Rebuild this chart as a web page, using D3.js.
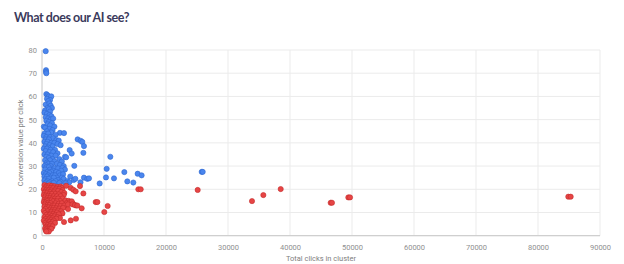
<!DOCTYPE html>
<html>
<head>
<meta charset="utf-8">
<script src="https://cdn.jsdelivr.net/npm/d3@7"></script>
<style>
  body { margin: 0; background: #fff; }
  svg { display: block; }
</style>
</head>
<body>
<div id="chart"></div>
<script>
// clicks vs conversion value
var bluePoints = [
  [600,79.5],[650,71.3],[650,70.6],[700,70],
  [700,61],[900,60.5],[1100,60],[1500,60],[800,59],[1300,58.5],[1000,58],[600,56.5],[1200,57],[1400,56],[900,55],[1600,55],[500,54],[1100,54.5],[1300,53.5],
  [400,53],[800,52.5],[1200,52],[1500,51.5],[600,51],[1000,50.5],[1400,50],[1800,50.5],[700,49.5],[1100,49],[1600,48.5],[300,47],[900,48],[1300,47.5],[2000,47],[500,46.5],[1200,46],[1700,45.5],[800,45],[1500,44.5],[2900,44.3],[3550,44.2],[400,44],[1000,44],[2200,43.5],
  [300,43],[700,42.5],[1300,42.5],[1800,42],[600,41.5],[1100,41.5],[2300,41.2],[2700,41],[400,40.5],[900,40.5],[1500,40],[2000,40],[2500,39.5],[700,39.5],[1200,39],[3000,39],[1700,38.5],[500,38.5],[1000,38],
  [5750,41.5],[6240,40.9],[6500,40.4],[6770,38.6],[4460,36.9],[4790,35.4],[6670,35.7],[11020,34],
  [300,37.5],[800,37.5],[1400,37],[2100,37],[600,36.5],[1200,36],[1800,36],[2500,35.5],[400,35],[900,35],[1500,34.5],[2200,34.5],[3700,34],[3900,33.8],[700,34],[1100,33.5],[1700,33],[2800,33],[500,32.5],[1300,32.5],[2000,32],[3200,32],[800,31.5],[1000,31],[1600,31],[2400,31],[600,30.5],[1400,30],[2900,30.5],[3500,30],[400,30],
  [5210,30.1],[10430,28.8],[13280,27.4],[15430,26.7],[16070,26],[25760,27.5],[25920,27.5],[10320,25.1],[11610,24.7],[13760,23.4],[14730,22.9],[9300,22.5],
  [6770,25],[7310,24.5],[7580,24.7],[4550,25.5],[5100,24],[5380,24.5],[6210,23],
  [700,29.5],[1100,29.5],[2000,29],[2600,29],[3300,29.2],[3700,28.5],[500,28.5],[1300,28.5],[1800,28],[3100,28],[900,27.5],[1500,27.5],[2300,27.5],[300,27],[1200,27],[2700,27],[600,26.5],[1000,26],[1700,26],[2100,26],[2900,26],[3400,26.5],[400,25.5],[800,25.5],[1400,25],[2400,25],[1900,25],[3200,25],[600,24.5],[1100,24.5],[2600,24],[3500,24.5],[400,23.8],[900,23.5],[1600,23.5],[2200,23.5],[3000,23.2],[4100,23.5],[700,23],[1300,23],[1900,22.8],[2800,22.7],[500,22.5],[1100,22.5],[4400,23],[3800,22.6]
];

var redPoints = [
  [25110,19.7],[15540,20],[15920,20],[10590,12.8],[10050,10.2],[8660,14.5],[8930,14.5],[6670,18.2],[6400,11.8],[5480,7.3],[4630,6.6],[3550,5.9],
  [6130,21.4],[4630,20.6],[5050,19.8],[5430,19.1],[4500,14],[5000,13.8],[5500,13],[3800,12.5],[4200,11.5],
  [33870,14.9],[35700,17.5],[38500,20.1],[46560,14.2],[46770,14.2],[49410,16.5],[49680,16.5],[84890,16.8],[85270,16.8],
  [400,21.8],[800,21.5],[1200,21.7],[1600,21.5],[2000,21.3],[2500,21],[3000,21.2],[3200,20.6],[3900,21.5],[600,20.8],[1000,20.7],[1400,20.5],[1800,20.5],[2300,20.3],[2800,20.2],[3300,19.6],[300,20],[700,19.8],[1100,19.7],[1500,19.5],[2100,19.5],[2600,19.3],[3100,18.8],[3600,18.4],[500,19],[900,19],[1300,18.8],[1900,18.7],
  [400,18.5],[800,18.3],[1200,18],[1600,18],[2200,18],[2700,17.8],[3500,17.5],[300,17.5],[600,17.3],[1000,17.2],[1400,17],[1900,17],[2400,17],[3000,17],[500,16.5],[900,16.3],[1300,16.2],[1700,16],[2100,16],[2600,16],[3300,16],[400,15.5],[700,15.5],[1100,15.3],[1500,15.2],[2000,15],[2900,15],[3800,15.2],[4300,15],[800,15],[1800,14.8],[2400,14.8],
  [300,14.5],[600,14.3],[1000,14.2],[1400,14],[2200,14],[2700,13.8],[3200,14],[4000,14],[4500,14.5],[4800,14.8],[500,13.5],[900,13.3],[1200,13.2],[1700,13],[2000,13],[2500,12.8],[3000,12.8],[3600,13],[4200,13.5],[4900,13.5],[5300,13.2],[5700,13],[400,12.5],[800,12.3],[1100,12.2],[1500,12],[1900,12],[2300,11.8],[2800,11.7],[3400,12],[600,11.5],[1300,11.2],[1700,11],[2100,11],[2600,10.8],[3100,10.5],[300,10.8],[900,10.5],[1500,10.3],[2000,10.1],[2400,10],[3300,9.6],
  [500,9.8],[1000,9.5],[1400,9.5],[1800,9.3],[2200,9],[2700,9.2],[700,9],[1200,8.8],[1600,8.5],[2000,8.3],[2500,8],[2900,7.6],[400,8],[900,8],[1300,7.7],[1700,7.5],[2300,7.3],[600,7.2],[1100,7],[1500,6.8],[1900,6.5],[300,6.5],[800,6.2],[1200,6],[1700,5.8],[2100,5.5],[500,5.5],[1000,5.2],[1400,5],
  [600,4.8],[900,4.5],[1300,4.3],[1700,4],[700,3.8],[1100,3.5],[500,3.2],[800,3],[1200,2.8],[1500,3],[600,2.3],[900,2],[1100,1.8],[700,1.8]
];

var xTicks = [0,10000,20000,30000,40000,50000,60000,70000,80000,90000];
var yTicks = [0,10,20,30,40,50,60,70,80];

var width = 624, height = 264;
var margin = {top: 50, right: 24, bottom: 28.3, left: 42};

var svg = d3.select("#chart").append("svg")
  .attr("width", width)
  .attr("height", height);

svg.append("text")
  .attr("x", 14)
  .attr("y", 22)
  .attr("font-family", "Lato")
  .attr("font-weight", 700)
  .attr("font-size", 12.5)
  .attr("letter-spacing", -0.45)
  .attr("fill", "#3b3a5c")
  .text("What does our AI see?");

var x = d3.scaleLinear().domain([0, 90000]).range([margin.left, width - margin.right]);
var y = d3.scaleLinear().domain([0, 80]).range([height - margin.bottom, margin.top]);

var grid = svg.append("g");
grid.selectAll(".gx").data(xTicks).enter().append("line")
  .attr("x1", d => x(d)).attr("x2", d => x(d))
  .attr("y1", y(80)).attr("y2", y(0))
  .attr("stroke", "#ebebeb");
grid.selectAll(".gy").data(yTicks).enter().append("line")
  .attr("x1", x(0)).attr("x2", x(90000))
  .attr("y1", d => y(d)).attr("y2", d => y(d))
  .attr("stroke", "#ebebeb");

// baselines
svg.append("line")
  .attr("x1", x(0)).attr("x2", x(90000))
  .attr("y1", y(0)).attr("y2", y(0))
  .attr("stroke", "#c8c8c8");
svg.append("line")
  .attr("x1", x(0)).attr("x2", x(0))
  .attr("y1", y(80)).attr("y2", y(0))
  .attr("stroke", "#d0d0d0");

var xAxis = svg.append("g")
  .attr("transform", "translate(0," + y(0) + ")")
  .call(d3.axisBottom(x).tickValues(xTicks).tickSize(0).tickPadding(9).tickFormat(d3.format("d")));
var yAxis = svg.append("g")
  .attr("transform", "translate(" + x(0) + ",0)")
  .call(d3.axisLeft(y).tickValues(yTicks).tickSize(0).tickPadding(5));
[xAxis, yAxis].forEach(function(a) {
  a.select(".domain").remove();
  a.selectAll("text")
    .attr("font-family", "Roboto, Arial, sans-serif")
    .attr("font-size", 7.5)
    .attr("fill", "#909090");
});

svg.append("text")
  .attr("x", (x(0) + x(90000)) / 2)
  .attr("y", 261)
  .attr("text-anchor", "middle")
  .attr("font-family", "Roboto, Arial, sans-serif")
  .attr("font-size", 7.5)
  .attr("fill", "#808080")
  .text("Total clicks in cluster");

svg.append("text")
  .attr("transform", "translate(23," + ((y(0) + y(80)) / 2) + ") rotate(-90)")
  .attr("text-anchor", "middle")
  .attr("font-family", "Roboto, Arial, sans-serif")
  .attr("font-size", 7.5)
  .attr("fill", "#808080")
  .text("Conversion value per click");

function drawPoints(data, fill, stroke) {
  svg.append("g").selectAll("circle").data(data).enter().append("circle")
    .attr("cx", d => x(d[0]))
    .attr("cy", d => y(d[1]))
    .attr("r", 2.6)
    .attr("fill", fill)
    .attr("stroke", stroke)
    .attr("stroke-width", 0.6);
}
drawPoints(bluePoints, "#4a86ee", "#2f68d0");
drawPoints(redPoints, "#e64545", "#c42c2c");
</script>
</body>
</html>
